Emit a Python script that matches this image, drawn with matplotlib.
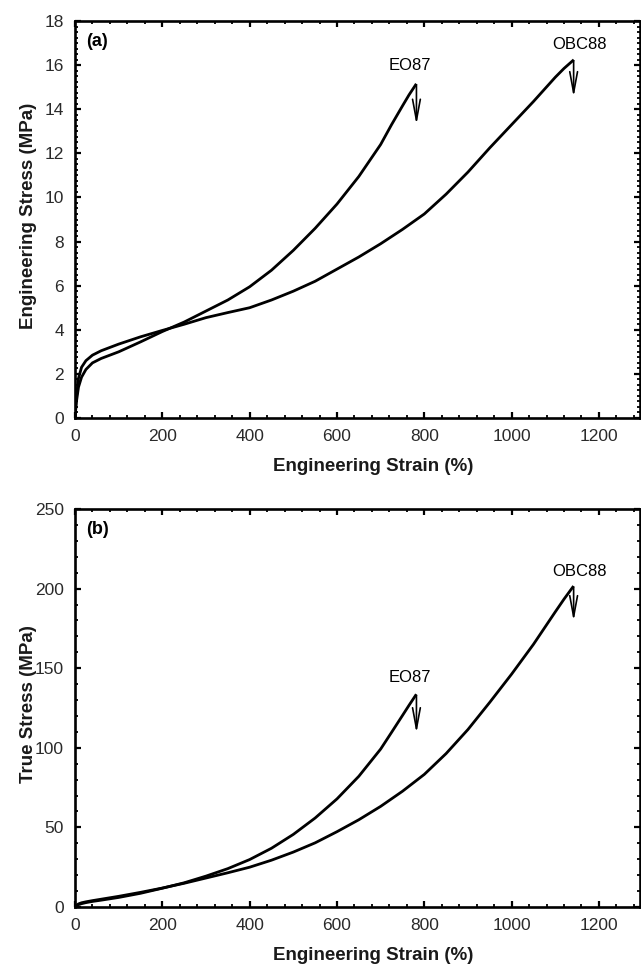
import matplotlib
matplotlib.use("Agg")
import matplotlib.pyplot as plt
from matplotlib.ticker import MultipleLocator

plt.rcParams['font.family'] = ['Liberation Sans', 'DejaVu Sans']

# EO87 - engineering strain (%), engineering stress (MPa), true stress (MPa)
strain_eo87 = [0, 3, 8, 15, 25, 40, 60, 100, 150, 200, 250, 300, 350, 400,
               450, 500, 550, 600, 650, 700, 725, 750, 765, 780]
eng_eo87 = [0, 0.7, 1.4, 1.85, 2.2, 2.5, 2.7, 3.0, 3.45, 3.92, 4.35, 4.85,
            5.35, 5.95, 6.7, 7.6, 8.6, 9.7, 10.95, 12.4, 13.3, 14.15, 14.65,
            15.1]
true_eo87 = [0, 0.72, 1.5, 2.1, 2.75, 3.5, 4.3, 6.0, 8.6, 11.8, 15.2, 19.4,
             24.1, 29.8, 36.9, 45.6, 55.9, 67.9, 82.1, 99.2, 109.7, 120.3,
             126.7, 132.9]

# OBC88
strain_obc88 = [0, 3, 8, 15, 25, 40, 60, 100, 150, 200, 250, 300, 350, 400,
                450, 500, 550, 600, 650, 700, 750, 800, 850, 900, 950, 1000,
                1050, 1100, 1120, 1140]
eng_obc88 = [0, 0.9, 1.8, 2.3, 2.6, 2.85, 3.05, 3.35, 3.68, 3.97, 4.25, 4.55,
             4.78, 5.0, 5.35, 5.75, 6.2, 6.75, 7.3, 7.9, 8.55, 9.25, 10.15,
             11.15, 12.25, 13.3, 14.35, 15.45, 15.85, 16.2]
true_obc88 = [0, 0.93, 1.94, 2.65, 3.25, 4.0, 4.9, 6.7, 9.2, 11.9, 14.9, 18.2,
              21.5, 25.0, 29.4, 34.5, 40.3, 47.3, 54.8, 63.2, 72.7, 83.3,
              96.4, 111.5, 128.6, 146.3, 165.0, 185.4, 193.4, 200.9]

W, H = 641, 966
fig = plt.figure(figsize=(W / 100, H / 100), dpi=100)
ax1 = fig.add_axes([75 / W, 1 - 418 / H, 565 / W, 397 / H])
ax2 = fig.add_axes([75 / W, 1 - 907 / H, 565 / W, 398 / H])

panels = [
    (ax1, "(a)", "Engineering Stress (MPa)", eng_eo87, eng_obc88, 18, 2, 0.25,
     (767, 16.0), (1156, 16.95), 13.3, 14.55),
    (ax2, "(b)", "True Stress (MPa)", true_eo87, true_obc88, 250, 50, 10,
     (767, 144.3), (1155, 210.7), 109.2, 179.6),
]

for (ax, tag, ylabel, y_eo, y_obc, ymax, ymaj, ymin,
     pos_eo, pos_obc, tip_eo, tip_obc) in panels:
    ax.plot(strain_eo87, y_eo, color="k", lw=2.0, solid_joinstyle="round")
    ax.plot(strain_obc88, y_obc, color="k", lw=2.0, solid_joinstyle="round")

    ax.set_xlim(0, 1294)
    ax.set_ylim(0, ymax)
    ax.xaxis.set_major_locator(MultipleLocator(200))
    ax.xaxis.set_minor_locator(MultipleLocator(40))
    ax.yaxis.set_major_locator(MultipleLocator(ymaj))
    ax.yaxis.set_minor_locator(MultipleLocator(ymin))
    ax.tick_params(which="both", direction="in", top=True, right=True,
                   labelsize=12.5, pad=8, labelcolor="#2a2a2a")
    ax.tick_params(which="major", length=4, width=1.6)
    ax.tick_params(which="minor", length=2.2, width=1.3)
    for s in ax.spines.values():
        s.set_linewidth(1.9)

    ax.set_xlabel("Engineering Strain (%)", fontsize=13.5, fontweight="bold",
                  color="#1a1a1a")
    ax.set_ylabel(ylabel, fontsize=13.5, fontweight="bold", color="#1a1a1a")
    ax.xaxis.set_label_coords(0.527, -0.10)
    ax.yaxis.set_label_coords(-0.067, 0.51)

    ax.text(0.019, 0.97, tag, transform=ax.transAxes, ha="left", va="top",
            fontsize=13, fontweight="bold")

    ax.text(pos_eo[0], pos_eo[1], "EO87", ha="center", va="center", fontsize=12)
    ax.text(pos_obc[0], pos_obc[1], "OBC88", ha="center", va="center", fontsize=12)

    arrow = dict(arrowstyle="->,head_length=1.5,head_width=0.28", lw=1.2,
                 color="k", shrinkA=0, shrinkB=0)
    ax.annotate("", xy=(strain_eo87[-1] + 2, tip_eo),
                xytext=(strain_eo87[-1] + 2, y_eo[-1]), arrowprops=arrow)
    ax.annotate("", xy=(strain_obc88[-1] + 2, tip_obc),
                xytext=(strain_obc88[-1] + 2, y_obc[-1]), arrowprops=arrow)

fig.savefig("out.png", dpi=100)
plt.close(fig)
